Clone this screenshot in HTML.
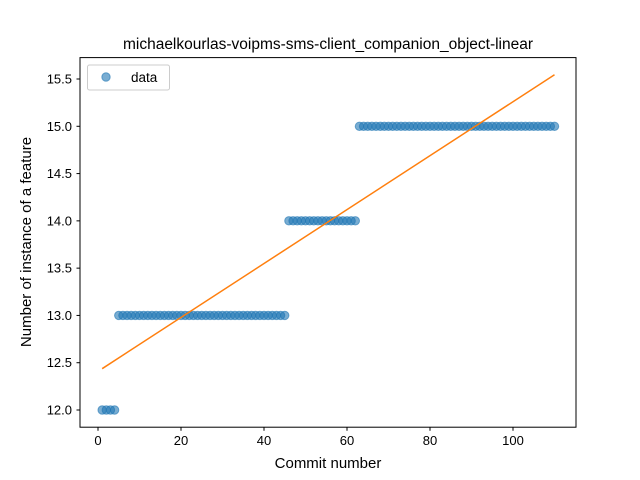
<!DOCTYPE html>
<html><head><meta charset="utf-8"><style>body{margin:0;background:#fff}svg{display:block;font-family:"Liberation Sans","DejaVu Sans",sans-serif}</style></head>
<body>
<svg id="chart" width="640" height="480" xmlns="http://www.w3.org/2000/svg">
<rect width="640" height="480" fill="#fff"/>
<text x="328" y="49" text-anchor="middle" font-size="15.5">michaelkourlas-voipms-sms-client_companion_object-linear</text>
<g id="marks"></g>
<g id="axes"></g>
<rect x="80" y="57.6" width="496" height="369.6" fill="none" stroke="#000" stroke-width="1"/>
<text x="328" y="468" text-anchor="middle" font-size="15">Commit number</text>
<text transform="translate(31,242) rotate(-90)" text-anchor="middle" font-size="15">Number of instance of a feature</text>
<g>
<rect x="87.5" y="65" width="82" height="25" rx="2" fill="#fff" fill-opacity="0.8" stroke="#ccc"/>
<circle cx="106" cy="77" r="4.2" fill="#1f77b4" fill-opacity="0.6" stroke="#1f77b4" stroke-opacity="0.6"/>
<text x="131" y="82" font-size="13.5">data</text>
</g>
</svg>
<script>
const segStarts = [1, 5, 46, 63];
const segEnds = [4, 45, 62, 110];
const segValues = [12, 13, 14, 15];
const xTicks = [0, 20, 40, 60, 80, 100];
const yTicks = [12.0, 12.5, 13.0, 13.5, 14.0, 14.5, 15.0, 15.5];

const ns = "http://www.w3.org/2000/svg";
const xs = [], ys = [];
for (let s = 0; s < segStarts.length; s++) for (let x = segStarts[s]; x <= segEnds[s]; x++) { xs.push(x); ys.push(segValues[s]); }
const X = v => 98 + v * 4.15;
const Y = v => 410 - (v - 12) * 94.57;
function el(t, a, p) { const e = document.createElementNS(ns, t); for (const k in a) e.setAttribute(k, a[k]); p.appendChild(e); return e; }
const marks = document.getElementById('marks'), axes = document.getElementById('axes');
xs.forEach((x, i) => {
  const c = el('circle', {cx: X(x), cy: Y(ys[i]), r: 4.2, fill: '#1f77b4', 'fill-opacity': 0.6, stroke: '#1f77b4', 'stroke-opacity': 0.6}, marks);
  
  
});
const n = xs.length, mx = xs.reduce((a, b) => a + b) / n, my = ys.reduce((a, b) => a + b) / n;
let sxy = 0, sxx = 0; xs.forEach((x, i) => { sxy += (x - mx) * (ys[i] - my); sxx += (x - mx) ** 2; });
const slope = sxy / sxx, icpt = my - slope * mx;
const x0 = xs[0], x1 = xs[n - 1];
const ln = el('line', {x1: X(x0), y1: Y(icpt + slope * x0), x2: X(x1), y2: Y(icpt + slope * x1), stroke: '#ff7f0e', 'stroke-width': 1.5}, marks);


xTicks.forEach(t => {
  el('line', {x1: X(t), x2: X(t), y1: 427.2, y2: 430.7, stroke: '#000'}, axes);
  const tx = el('text', {x: X(t), y: 445, 'text-anchor': 'middle', 'font-size': 13}, axes);
  tx.textContent = t;
  
  
});
yTicks.forEach(t => {
  el('line', {x1: 76.5, x2: 80, y1: Y(t), y2: Y(t), stroke: '#000'}, axes);
  const tx = el('text', {x: 72, y: Y(t) + 4.5, 'text-anchor': 'end', 'font-size': 13}, axes);
  tx.textContent = t.toFixed(1);
  
  
});
</script>
</body></html>
